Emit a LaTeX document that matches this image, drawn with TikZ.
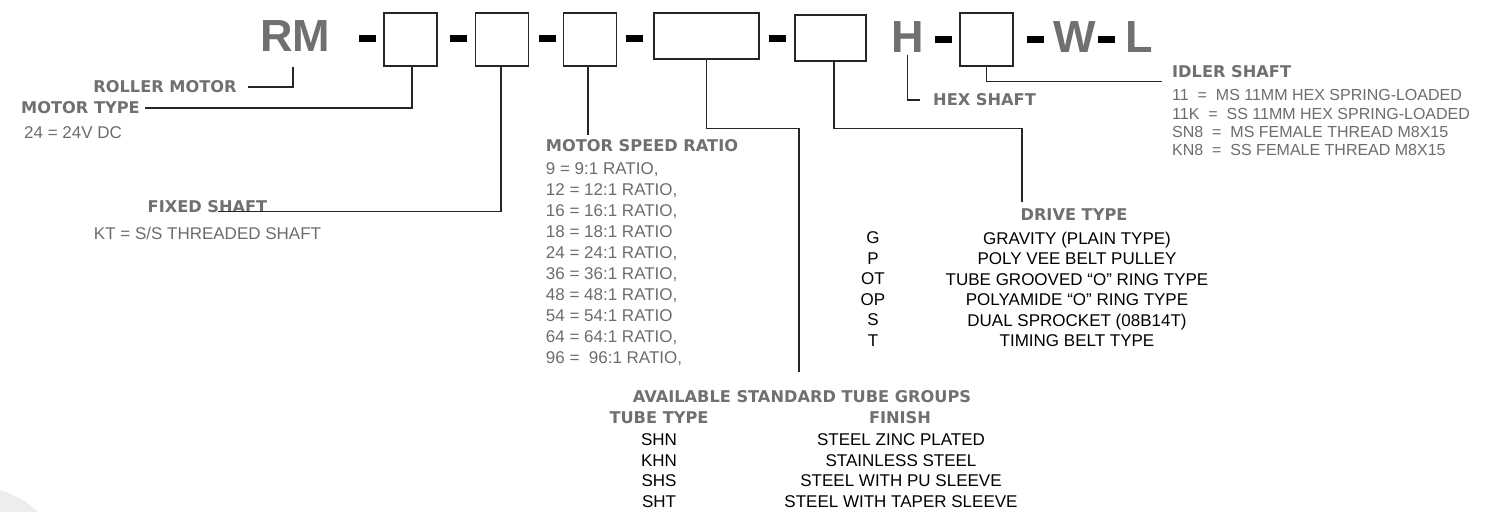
\documentclass[tikz,border=0pt]{standalone}
\usepackage{fontspec}
\setmainfont{Liberation Sans}
\newfontfamily\hdfont{DejaVu Sans}
\usetikzlibrary{positioning,calc}
\definecolor{hdgrey}{HTML}{707070}
\definecolor{txtgrey}{HTML}{6C6C6C}
\tikzset{
  codebox/.style={rectangle,draw=black!85,line width=1.1pt,minimum width=53pt,minimum height=53pt,inner sep=0pt},
  dashbar/.style={rectangle,fill=black,minimum width=17pt,minimum height=7pt,inner sep=0pt},
  bigltr/.style={font=\fontsize{45}{45}\selectfont\bfseries,text=hdgrey,inner sep=0pt},
  hd/.style={font=\hdfont\bfseries\fontsize{16.2}{19}\selectfont,text=hdgrey,inner sep=0pt},
  lst/.style={font=\fontsize{17}{21}\selectfont,text=txtgrey,inner sep=0pt,align=left},
  tbl/.style={font=\fontsize{17}{20.5}\selectfont,text=black,inner sep=0pt,align=center},
  conn/.style={draw=black!85,line width=1.1pt},
}
\begin{document}
\begin{tikzpicture}[x=1pt,y=-1pt]
  \useasboundingbox (0,0) rectangle (1494,512);
  \fill[black!7] (0,490) .. controls (15,495) and (28,502) .. (38,512) -- (0,512) -- cycle;
  % code line
  \node[bigltr] (rm) at (295,36) {RM};
  \node[dashbar] (d1) at (367,38) {};
  \node[codebox] (b1) at (410.5,39.5) {};
  \node[dashbar] (d2) at (458.5,38) {};
  \node[codebox] (b2) at (502,39.5) {};
  \node[dashbar] (d3) at (547,38) {};
  \node[codebox] (b3) at (590,39.5) {};
  \node[dashbar] (d4) at (634.5,38) {};
  \node[codebox,minimum width=105pt,minimum height=46pt] (b4) at (706.5,36) {};
  \node[dashbar] (d5) at (777,38) {};
  \node[codebox,minimum width=71pt,minimum height=46pt] (b5) at (830.5,38) {};
  \node[bigltr] (hh) at (907.5,37) {H};
  \node[dashbar] (d6) at (943.5,39) {};
  \node[codebox] (b6) at (986.5,39.5) {};
  \node[dashbar] (d7) at (1035,39) {};
  \node[bigltr] (ww) at (1074.5,37) {W};
  \node[dashbar] (d8) at (1106.5,39) {};
  \node[bigltr] (ll) at (1139.5,37) {L};
  % left labels
  \node[hd] (roller) at (165,87) {ROLLER MOTOR};
  \node[hd] (mtype) at (80.5,108) {MOTOR TYPE};
  \node[lst,below=12pt of mtype.south west,anchor=north west,xshift=3pt] (mtlist) {24 = 24V DC};
  \node[hd] (fixhd) at (207.5,207) {FIXED SHAFT};
  \node[lst,below=14pt of fixhd] (fixlist) {KT = S/S THREADED SHAFT};
  % motor speed ratio
  \node[hd] (srhd) at (642,146) {MOTOR SPEED RATIO};
  \node[lst,below=10pt of srhd.south west,anchor=north west] (srlist)
    {9 = 9:1 RATIO,\\12 = 12:1 RATIO,\\16 = 16:1 RATIO,\\18 = 18:1 RATIO\\24 = 24:1 RATIO,\\
     36 = 36:1 RATIO,\\48 = 48:1 RATIO,\\54 = 54:1 RATIO\\64 = 64:1 RATIO,\\96 =~ 96:1 RATIO,};
  % drive type
  \node[hd] (drvhd) at (1074,215) {DRIVE TYPE};
  \node[tbl,anchor=north] (drvcode) at (873,231.7) {G\\P\\OT\\OP\\S\\T};
  \node[tbl,anchor=north] (drvdesc) at (1077,231.7)
    {GRAVITY (PLAIN TYPE)\\POLY VEE BELT PULLEY\\TUBE GROOVED “O” RING TYPE\\
     POLYAMIDE “O” RING TYPE\\DUAL SPROCKET (08B14T)\\TIMING BELT TYPE};
  % tube groups
  \node[hd] (tubehd) at (802,397) {AVAILABLE STANDARD TUBE GROUPS};
  \node[hd] (ttype) at (659,418) {TUBE TYPE};
  \node[hd] (tfin) at (900,418) {FINISH};
  \node[tbl,anchor=north] (tcode) at (659,433.7) {SHN\\KHN\\SHS\\SHT};
  \node[tbl,anchor=north] (tdesc) at (901,433.7)
    {STEEL ZINC PLATED\\STAINLESS STEEL\\STEEL WITH PU SLEEVE\\STEEL WITH TAPER SLEEVE};
  % hex + idler
  \node[hd,anchor=west] (hex) at (933,100) {HEX SHAFT};
  \node[hd,anchor=west] (idl) at (1172,72) {IDLER SHAFT};
  \node[lst,font=\fontsize{16}{18.4}\selectfont,below=11pt of idl.south west,anchor=north west] (idlist)
    {11~~=~~MS 11MM HEX SPRING-LOADED\\11K~~=~~SS 11MM HEX SPRING-LOADED\\
     SN8~~=~~MS FEMALE THREAD M8X15\\KN8~~=~~SS FEMALE THREAD M8X15};
  % free ends
  \coordinate (srtip) at (588,135);
  \coordinate (tubetip) at (799,372);
  \coordinate (drvtip) at (1022,202);
  % connectors
  \draw[conn] ([xshift=-2pt,yshift=-15pt]rm.south) |- ([xshift=11pt]roller.east);
  \draw[conn] ([xshift=1.5pt]b1.south) |- ([xshift=5pt]mtype.east);
  \draw[conn] ([xshift=-1pt]b2.south) |- ([xshift=10pt,yshift=2pt]fixhd.south);
  \draw[conn] ([xshift=-2pt]b3.south) -- (srtip);
  \draw[conn] (b4.south) -- ++(0,69) -| (tubetip);
  \draw[conn] ([xshift=3.5pt]b5.south) -- ++(0,67) -| (drvtip);
  \draw[conn] ([yshift=-2pt]hh.south) |- ([xshift=-13pt]hex.west);
  \draw[conn] (b6.south) |- ([xshift=-10pt,yshift=-3pt]idl.south west);
\end{tikzpicture}
\end{document}
